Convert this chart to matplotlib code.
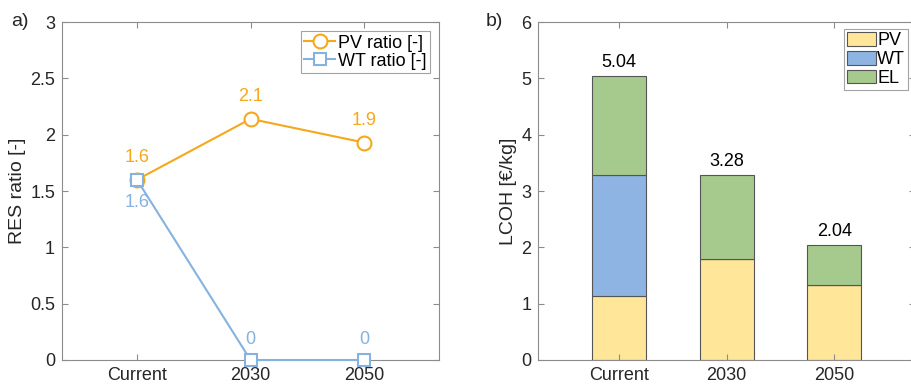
import numpy as np
import matplotlib
matplotlib.use("Agg")
import matplotlib.pyplot as plt

plt.rcParams['font.family'] = ['Liberation Sans', 'DejaVu Sans']

# data
categories = ['Current', '2030', '2050']
pv_ratio = [1.6, 2.14, 1.93]
wt_ratio = [1.6, 0.0, 0.0]

lcoh_pv = [1.13, 1.79, 1.34]
lcoh_wt = [2.15, 0.0, 0.0]
lcoh_el = [1.76, 1.49, 0.70]
lcoh_total = [5.04, 3.28, 2.04]

orange = '#F5A81C'
lblue = '#86B2E0'
c_pv = '#FFE699'
c_wt = '#8DB4E2'
c_el = '#A6CA8D'
axcol = '#8C8C8C'
txt = '#262626'

fig = plt.figure(figsize=(9.12, 3.84), dpi=100)
ax1 = fig.add_axes([0.068, 0.0625, 0.4134, 0.8802])
ax2 = fig.add_axes([0.590, 0.0625, 0.4134, 0.8802])

x = np.arange(1, len(categories) + 1)


def style(ax):
    for s in ax.spines.values():
        s.set_color(axcol)
        s.set_linewidth(0.8)
    ax.tick_params(direction='in', length=4, color=axcol, labelcolor=txt,
                   labelsize=13, top=True, right=True, pad=5)
    ax.set_xticks(x)
    ax.set_xticklabels(categories)


# a) ratio lines
ax1.plot(x, pv_ratio, '-o', color=orange, lw=1.5, ms=10, mfc='white',
         mew=1.5, label='PV ratio [-]', zorder=3, clip_on=False)
ax1.plot(x, wt_ratio, '-s', color=lblue, lw=1.5, ms=8, mfc='white',
         mew=1.5, label='WT ratio [-]', zorder=4, clip_on=False)
for xi, v in zip(x, pv_ratio):
    ax1.annotate(f'{v:.1f}', (xi, v), xytext=(0, 10), textcoords='offset points',
                 ha='center', va='bottom', color=orange, fontsize=13)
for i, (xi, v) in enumerate(zip(x, wt_ratio)):
    dy = -10 if i == 0 else 9
    lbl = f'{v:.1f}' if v > 0 else '0'
    ax1.annotate(lbl, (xi, v), xytext=(0, dy), textcoords='offset points',
                 ha='center', va='top' if dy < 0 else 'bottom',
                 color=lblue, fontsize=13)
ax1.set_xlim(0.34, 3.66)
ax1.set_ylim(0, 3)
ax1.set_yticks(np.arange(0, 3.01, 0.5))
ax1.set_yticklabels(['0', '0.5', '1', '1.5', '2', '2.5', '3'])
ax1.set_ylabel('RES ratio [-]', fontsize=14, color=txt, labelpad=3)
style(ax1)
leg1 = ax1.legend(loc='upper right', fontsize=13, frameon=True, fancybox=False,
                  edgecolor=axcol, handlelength=1.7, handletextpad=0.15,
                  borderpad=0.2, labelspacing=0.05, borderaxespad=0.5)
leg1.get_frame().set_linewidth(0.8)
fig.text(0.012, 0.945, 'a)', fontsize=14, color=txt, va='center', ha='left')

# b) stacked LCOH bars
w = 0.5
ec = '#555555'
ax2.bar(x, lcoh_pv, w, color=c_pv, edgecolor=ec, lw=0.8, label='PV')
ax2.bar(x, lcoh_wt, w, bottom=lcoh_pv, color=c_wt, edgecolor=ec, lw=0.8, label='WT')
bottom_el = np.array(lcoh_pv) + np.array(lcoh_wt)
ax2.bar(x, lcoh_el, w, bottom=bottom_el, color=c_el, edgecolor=ec, lw=0.8, label='EL')
for xi, t in zip(x, lcoh_total):
    ax2.annotate(f'{t:.2f}', (xi, t), xytext=(0, 4), textcoords='offset points',
                 ha='center', va='bottom', color='black', fontsize=13)
ax2.set_xlim(0.25, 3.75)
ax2.set_ylim(0, 6)
ax2.set_yticks(np.arange(0, 7, 1))
ax2.set_ylabel('LCOH [€/kg]', fontsize=14, color=txt, labelpad=3)
style(ax2)
leg2 = ax2.legend(loc='upper right', bbox_to_anchor=(908 / 912, 1 - 29 / 384),
                  bbox_transform=fig.transFigure, fontsize=13,
                  frameon=True, fancybox=False, edgecolor=axcol,
                  handlelength=1.6, handleheight=0.8, handletextpad=0.1,
                  borderpad=0.15, labelspacing=0.1, borderaxespad=0.0)
leg2.get_frame().set_linewidth(0.8)
fig.text(0.533, 0.945, 'b)', fontsize=14, color=txt, va='center', ha='left')

fig.savefig('out.png', dpi=100)
